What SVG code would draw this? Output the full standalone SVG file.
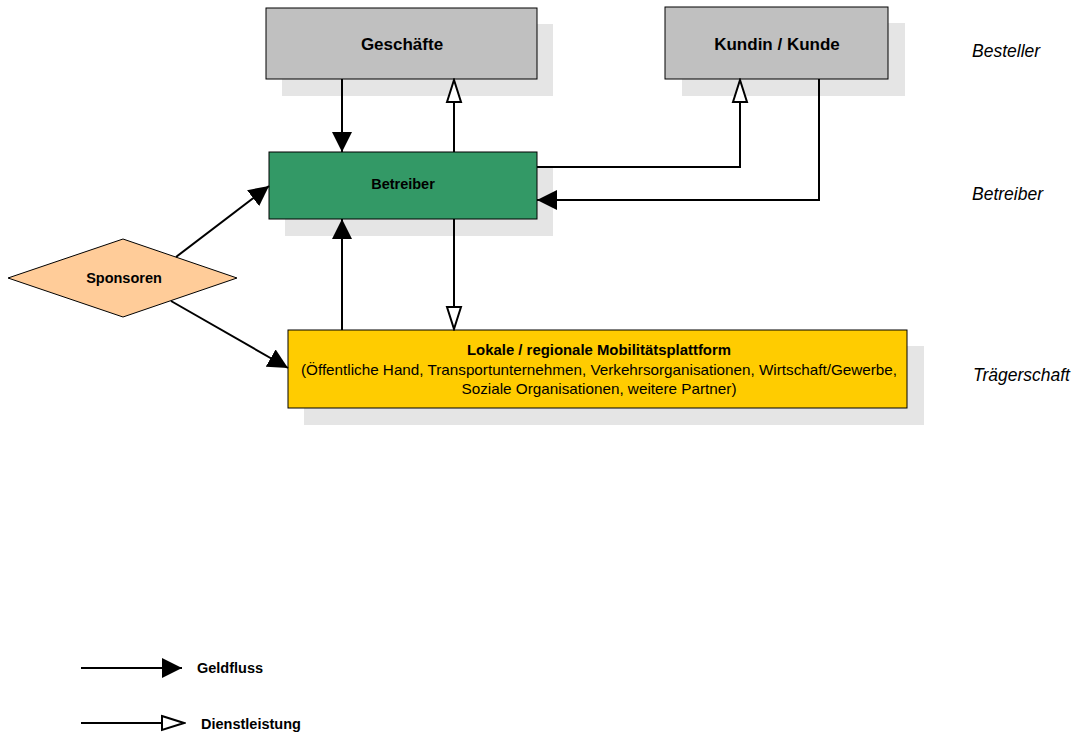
<svg xmlns="http://www.w3.org/2000/svg" width="1085" height="735" viewBox="0 0 1085 735">
<style>
  .shadow { fill: #e5e5e5; stroke: none; }
  .box { stroke: #000; stroke-width: 1; }
  .lbl { font-family: "Liberation Sans", Arial, sans-serif; font-weight: bold; fill: #000; text-anchor: middle; }
  .reg { font-family: "Liberation Sans", Arial, sans-serif; fill: #000; text-anchor: middle; }
  .side { font-family: "Liberation Sans", Arial, sans-serif; font-style: italic; font-size: 17.5px; fill: #000; }
  .leg { font-family: "Liberation Sans", Arial, sans-serif; font-weight: bold; font-size: 14.5px; fill: #000; }
  .conn path { fill: none; stroke: #000; stroke-width: 2; }
</style>
<defs>
  <marker id="mFill" markerUnits="userSpaceOnUse" markerWidth="20" markerHeight="20" viewBox="0 0 20 20" refX="20" refY="10" orient="auto">
    <path d="M0,0 L20,10 L0,20 z" fill="#000"/>
  </marker>
  <marker id="mOpen" markerUnits="userSpaceOnUse" markerWidth="26" markerHeight="18" viewBox="-2 -2 26 18" refX="22" refY="7" orient="auto">
    <path d="M0,0 L22,7 L0,14 z" fill="#fff" stroke="#000" stroke-width="2" stroke-linejoin="miter"/>
  </marker>
</defs>
<rect width="1085" height="735" fill="#fff"/>

<g id="geschaefte">
  <rect class="shadow" x="282" y="24" width="271" height="72"/>
  <rect class="box" x="266" y="8" width="271" height="71" fill="#c0c0c0"/>
  <text class="lbl" x="402" y="50" font-size="17px">Geschäfte</text>
</g>

<g id="kunde">
  <rect class="shadow" x="682" y="23" width="223" height="73"/>
  <rect class="box" x="665" y="7" width="223" height="72" fill="#c0c0c0"/>
  <text class="lbl" x="777" y="50" font-size="17px">Kundin / Kunde</text>
</g>

<g id="betreiber">
  <rect class="shadow" x="285" y="168" width="268" height="68"/>
  <rect class="box" x="269" y="152" width="268" height="67" fill="#339966"/>
  <text class="lbl" x="403" y="189" font-size="14.5px">Betreiber</text>
</g>

<g id="sponsoren">
  <polygon class="box" points="123,239 237,278 123,317 8,278" fill="#ffcc99"/>
  <text class="lbl" x="124" y="283" font-size="14.5px">Sponsoren</text>
</g>

<g id="plattform">
  <rect class="shadow" x="304" y="346" width="620" height="79"/>
  <rect class="box" x="288" y="330" width="619" height="78" fill="#ffcc00"/>
  <text class="lbl" x="599" y="355" font-size="15px" textLength="264" lengthAdjust="spacingAndGlyphs">Lokale / regionale Mobilitätsplattform</text>
  <text class="reg" x="599" y="375" font-size="15px" textLength="596" lengthAdjust="spacingAndGlyphs">(Öffentliche Hand, Transportunternehmen, Verkehrsorganisationen, Wirtschaft/Gewerbe,</text>
  <text class="reg" x="599" y="394" font-size="15px" textLength="275" lengthAdjust="spacingAndGlyphs">Soziale Organisationen, weitere Partner)</text>
</g>

<g id="connectors" class="conn">
  <path d="M342,79 V152" marker-end="url(#mFill)"/>
  <path d="M454,152 V80" marker-end="url(#mOpen)"/>
  <path d="M537,167 H740 V80" marker-end="url(#mOpen)"/>
  <path d="M819,79 V200 H537" marker-end="url(#mFill)"/>
  <path d="M454,219 V329" marker-end="url(#mOpen)"/>
  <path d="M342,330 V219" marker-end="url(#mFill)"/>
  <path d="M176,257 L269,186" marker-end="url(#mFill)"/>
  <path d="M171,301 L288,368" marker-end="url(#mFill)"/>
</g>

<g id="side-labels">
  <text class="side" x="972" y="57">Besteller</text>
  <text class="side" x="972" y="200">Betreiber</text>
  <text class="side" x="973" y="381">Trägerschaft</text>
</g>

<g id="legend">
  <g class="conn">
    <path d="M81,668 H182" marker-end="url(#mFill)"/>
    <path d="M81,723 H184" marker-end="url(#mOpen)"/>
  </g>
  <text class="leg" x="197" y="673">Geldfluss</text>
  <text class="leg" x="201" y="729">Dienstleistung</text>
</g>
</svg>
